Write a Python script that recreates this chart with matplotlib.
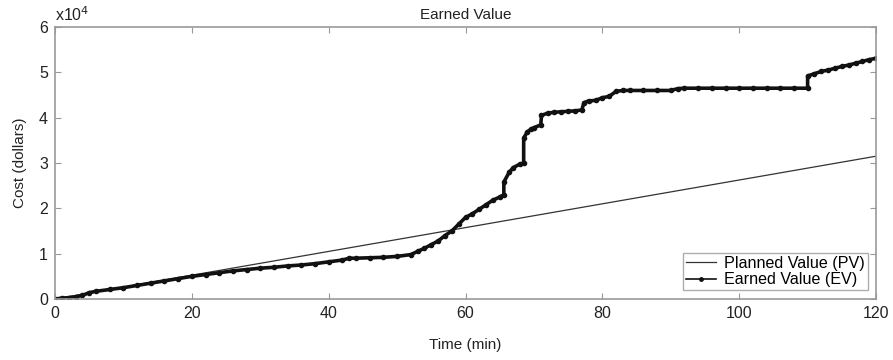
import matplotlib.pyplot as plt
from matplotlib.ticker import FuncFormatter
import numpy as np

plt.rcParams['font.family'] = ['Liberation Sans', 'DejaVu Sans']

# planned value: straight line from start to end of the run
pv_time = [0, 120]
pv_cost = [0, 31500]

# earned value (cost in units of 1e4 dollars)
ev_time = [0, 1, 2, 3, 4, 5, 6, 8, 10, 12, 14, 16, 18, 20, 22, 24, 26, 28, 30,
           32, 34, 36, 38, 40, 42, 43, 44, 46, 48, 50, 52, 53, 54, 55, 56, 57,
           58, 59, 60, 61, 62, 63, 64, 65, 65.6, 65.6, 66.4, 67, 68, 68.5, 68.5,
           69, 69.5, 70, 71, 71.1, 72, 73, 74, 75, 76, 77, 77.3, 78, 79, 80, 81,
           82, 83, 84, 86, 88, 90, 91, 92, 94, 96, 98, 100, 102, 104, 106, 108,
           110, 110, 111, 112, 113, 114, 115, 116, 117, 118, 119, 120]
ev_cost_1e4 = [0.0, 0.02, 0.03, 0.05, 0.08, 0.14, 0.17, 0.21, 0.25, 0.30, 0.35,
               0.40, 0.45, 0.50, 0.54, 0.58, 0.62, 0.65, 0.68, 0.70, 0.73, 0.75,
               0.78, 0.82, 0.86, 0.90, 0.90, 0.91, 0.92, 0.94, 0.98, 1.05, 1.12,
               1.20, 1.28, 1.40, 1.50, 1.65, 1.80, 1.88, 1.98, 2.08, 2.18, 2.25,
               2.30, 2.58, 2.80, 2.90, 2.98, 3.00, 3.55, 3.68, 3.74, 3.78, 3.84,
               4.05, 4.10, 4.12, 4.13, 4.14, 4.15, 4.17, 4.33, 4.37, 4.38, 4.44,
               4.47, 4.58, 4.60, 4.60, 4.60, 4.60, 4.60, 4.64, 4.65, 4.65, 4.65,
               4.65, 4.65, 4.65, 4.65, 4.65, 4.65, 4.65, 4.92, 4.97, 5.02, 5.05,
               5.09, 5.13, 5.16, 5.20, 5.24, 5.28, 5.31]
ev_cost = np.array(ev_cost_1e4) * 1e4

x_ticks = [0, 20, 40, 60, 80, 100, 120]
y_ticks = [0, 10000, 20000, 30000, 40000, 50000, 60000]

fig = plt.figure(figsize=(8.93, 3.6), dpi=100)
ax = fig.add_axes([0.0616, 0.1694, 0.9194, 0.7556])

ax.plot(pv_time, pv_cost, color="#333333", lw=0.9, label="Planned Value (PV)")
ax.plot(ev_time, ev_cost, color="#111111", lw=2.6, marker=".", markersize=6,
        label="Earned Value (EV)")

ax.set_xlim(0, 120)
ax.set_ylim(0, 60000)
ax.set_xticks(x_ticks)
ax.set_yticks(y_ticks)
ax.yaxis.set_major_formatter(FuncFormatter(lambda v, p: f"{v/1e4:g}"))

for side in ax.spines.values():
    side.set_color("#999999")
    side.set_linewidth(1.2)
ax.tick_params(direction="in", length=4, colors="#999999", labelcolor="#222222",
               labelsize=11.5, top=True, right=True, pad=5)

ax.text(0.0, 1.01, r"x10$^4$", transform=ax.transAxes, fontsize=11.5,
        color="#222222", ha="left", va="bottom")

ax.set_title("Earned Value", fontsize=11, color="#222222", pad=6)
ax.set_xlabel("Time (min)", fontsize=11, color="#222222", labelpad=12)
ax.set_ylabel("Cost (dollars)", fontsize=11, color="#222222", labelpad=9)

leg = ax.legend(loc="lower right", bbox_to_anchor=(0.9898, 0.034), fontsize=11.6,
                frameon=True, fancybox=False, handlelength=1.9, borderpad=0.15,
                labelspacing=0.1, handletextpad=0.5, borderaxespad=0, numpoints=1)
leg.get_frame().set_edgecolor("#999999")
leg.get_frame().set_linewidth(1.0)
leg.get_lines()[1].set_linewidth(1.2)
leg.get_lines()[1].set_markersize(5)

plt.savefig("out.png", dpi=100)
